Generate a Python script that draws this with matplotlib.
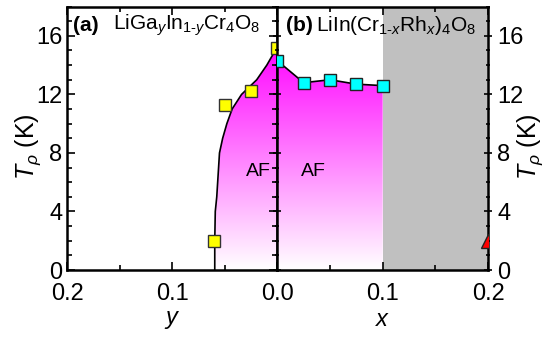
import numpy as np
from matplotlib import pyplot as plt
from matplotlib.colors import LinearSegmentedColormap
from matplotlib.patches import Polygon

plt.rcParams['font.family'] = ['Liberation Sans', 'DejaVu Sans']
plt.rcParams['mathtext.fontset'] = 'custom'
plt.rcParams['mathtext.rm'] = 'Liberation Sans'
plt.rcParams['mathtext.it'] = 'Liberation Sans:italic'
plt.rcParams['mathtext.bf'] = 'Liberation Sans:bold'

# (a) LiGa_y In_1-y Cr4O8 : transition temperatures
y_ga = [0.06, 0.05, 0.025, 0.0]
tp_ga = [2.0, 11.3, 12.2, 15.2]
# phase boundary (y, T)
bound_y = [0.0595, 0.0595, 0.0590, 0.0576, 0.0550, 0.0520, 0.0480, 0.0430, 0.0340, 0.0196, 0.0100, 0.0020, 0.0]
bound_t = [0.0, 2.0, 4.0, 5.0, 8.0, 9.0, 10.0, 11.0, 12.0, 13.0, 14.0, 15.0, 15.2]

# (b) LiIn(Cr_1-x Rh_x)4O8
x_rh = [0.0, 0.025, 0.05, 0.075, 0.1]
tp_rh = [14.3, 12.8, 13.0, 12.7, 12.6]
x_tri = [0.2]
tp_tri = [2.0]

fig = plt.figure(figsize=(5.59, 3.43), dpi=100)
axa = fig.add_axes([0.1199, 0.2128, 0.3762, 0.768])
axb = fig.add_axes([0.4961, 0.2128, 0.3769, 0.768])

cmap = LinearSegmentedColormap.from_list('af', ['#ffffff', '#ff00ff'])
grad = np.linspace(0, 1, 256).reshape(-1, 1)

# left panel gradient fill under boundary
poly_a = Polygon(list(zip(bound_y, bound_t)) + [(0.0, 0.0)], closed=True, transform=axa.transData)
im = axa.imshow(grad, extent=[0.2, 0.0, 0, 15.5], origin='lower', cmap=cmap, aspect='auto', zorder=1)
im.set_clip_path(poly_a)
axa.plot(bound_y, bound_t, color='black', lw=1.2, zorder=2)
axa.plot(y_ga, tp_ga, ls='none', marker='s', ms=8.8, mfc='#ffff00', mec='#333333', mew=1, zorder=3)

# right panel
axb.axvspan(0.1, 0.2, color='#c0c0c0', lw=0, zorder=0)
poly_b = Polygon(list(zip(x_rh, tp_rh)) + [(x_rh[-1], 0.0), (0.0, 0.0)], closed=True, transform=axb.transData)
im2 = axb.imshow(grad, extent=[0.0, 0.2, 0, 15.5], origin='lower', cmap=cmap, aspect='auto', zorder=1)
im2.set_clip_path(poly_b)
axb.plot(x_rh, tp_rh, color='black', lw=1.2, marker='s', ms=8.8, mfc='#00ffff', mec='#222222', mew=1, zorder=3)
axb.plot(x_tri, tp_tri, ls='none', marker='^', ms=10, mfc='#ff0000', mec='#222222', mew=1, zorder=3)

for ax in (axa, axb):
    ax.set_ylim(0, 18)
    ax.set_yticks([0, 4, 8, 12, 16])
    ax.set_yticks(np.arange(0, 19, 1), minor=True)
    ax.set_xticks([0.0, 0.05, 0.1, 0.15, 0.2], minor=True)
    ax.tick_params(which='both', direction='in', width=1.2, labelsize=17)
    ax.tick_params(which='major', length=6)
    ax.tick_params(which='minor', length=3.5)
    for s in ax.spines.values():
        s.set_linewidth(1.8)

axa.set_xlim(0.2, 0.0)
axa.set_xticks([0.2, 0.1, 0.0])
axa.set_xticklabels(['0.2', '0.1', '0.0'])
axa.tick_params(which='both', left=True, right=True, top=True, labelleft=True)
axa.tick_params(axis='x', pad=9)
axa.set_xlabel('$\\it{y}$', fontsize=17, labelpad=3)
axa.set_ylabel('$T_\\rho$ (K)', fontsize=18)
axa.yaxis.set_label_coords(-0.114, 0.468)

axb.set_xlim(0.0, 0.2)
axb.set_xticks([0.0, 0.1, 0.2])
axb.set_xticklabels(['', '0.1', '0.2'])
axb.tick_params(which='both', left=True, right=True, top=True, labelleft=False, labelright=True)
axb.tick_params(axis='y', which='both', direction='inout')
axb.tick_params(axis='x', pad=9)
axb.set_xlabel('$\\it{x}$', fontsize=17, labelpad=3)
axb.yaxis.set_label_position('right')
axb.set_ylabel('$T_\\rho$ (K)', fontsize=18)
axb.yaxis.set_label_coords(1.128, 0.468)

axa.text(0.029, 0.93, '(a)', transform=axa.transAxes, fontsize=15, fontweight='bold', va='center', ha='left')
axa.text(0.219, 0.93, 'LiGa$_{y}$In$_{1\\text{-}y}$Cr$_4$O$_8$', transform=axa.transAxes,
         fontsize=15, va='center', ha='left')
axb.text(0.04, 0.93, '(b)', transform=axb.transAxes, fontsize=15, fontweight='bold', va='center', ha='left')
axb.text(0.182, 0.93, 'LiIn(Cr$_{1\\text{-}x}$Rh$_{x}$)$_4$O$_8$', transform=axb.transAxes,
         fontsize=15, va='center', ha='left')

axa.text(0.018, 6.7, 'AF', fontsize=14, ha='center', va='center', zorder=4)
axb.text(0.034, 6.7, 'AF', fontsize=14, ha='center', va='center', zorder=4)

fig.savefig('out.png', dpi=100)
